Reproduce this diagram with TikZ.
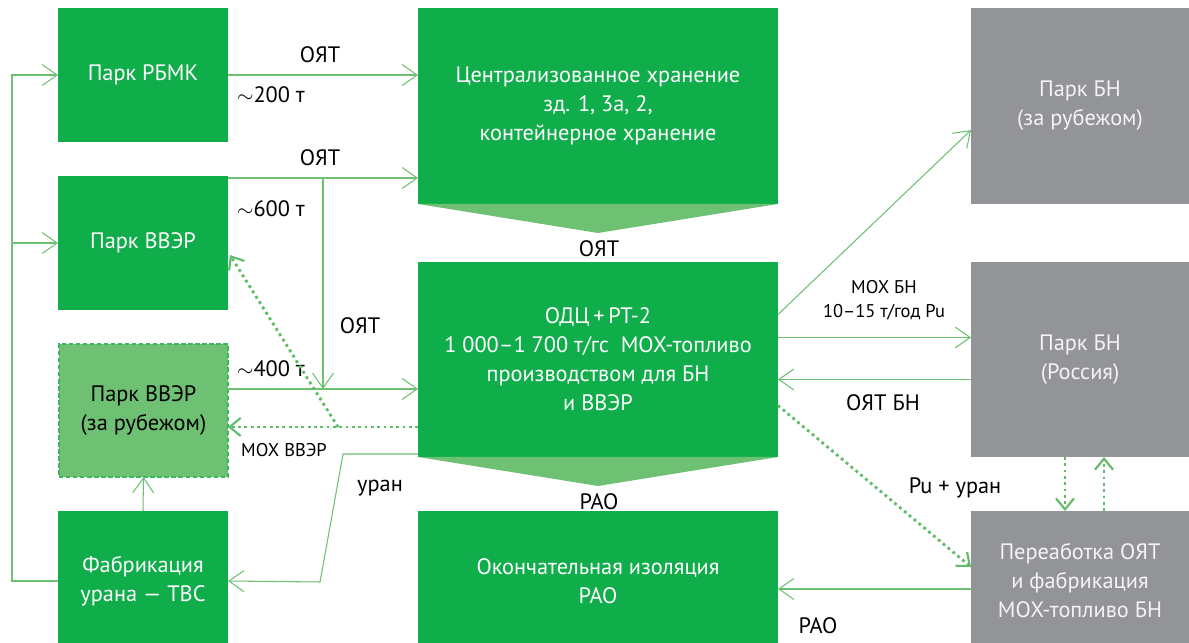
\documentclass[tikz,border=0pt]{standalone}
\usepackage{fontspec}
\setmainfont{PT Sans}
\usetikzlibrary{arrows.meta,calc}
\definecolor{Green}{RGB}{16,174,75}
\definecolor{LightGreen}{RGB}{110,192,114}
\definecolor{DotGreen}{RGB}{96,188,104}
\definecolor{Gray}{RGB}{147,148,152}
\definecolor{GrayText}{RGB}{244,244,244}
\tikzset{
  park/.style={fill=Green, text=white, align=center, inner sep=2pt, outer sep=0pt, minimum width=3.4cm, minimum height=2.68cm, font=\fontsize{12.7}{16.5}\selectfont},
  abroad/.style={park, fill=LightGreen, text=black, draw=Green!55!LightGreen, line width=1.1pt, dash pattern=on 2.5pt off 1.5pt},
  plant/.style={park, minimum width=7.2cm, minimum height=3.92cm},
  fast/.style={park, fill=Gray, text=GrayText, minimum width=4.36cm, minimum height=3.92cm},
  wedge/.style={fill=LightGreen},
  lbl/.style={inner sep=0pt, align=center, font=\fontsize{12.7}{16.5}\selectfont},
  small/.style={inner sep=0pt, align=center, font=\fontsize{10.5}{13.5}\selectfont},
  flow/.style={draw=LightGreen, line width=0.6pt, -{Straight Barb[length=0.3cm,width=0.42cm,line width=0.6pt]}},
  dotflow/.style={draw=DotGreen, line width=1.6pt, dash pattern=on 1.6pt off 2pt, -{Straight Barb[length=0.22cm,width=0.36cm,line width=1.2pt]}}
}
\begin{document}
\begin{tikzpicture}[x=0.02cm,y=-0.02cm]
\clip (0,0) rectangle (1189,642);
\fill[white] (0,0) rectangle (1189,642);

\node[park] (rbmk) at (143,75) {Парк РБМК};
\node[park] (vver) at (143,243) {Парк ВВЭР};
\node[abroad, minimum width=3.38cm, minimum height=2.66cm] (vverabroad) at (143.5,410.5) {Парк ВВЭР\\(за рубежом)};
\node[park, minimum height=2.8cm] (fab) at (143,581) {Фабрикация\\урана — ТВС};
\node[plant] (store) at (598,106) {Централизованное хранение\\зд. 1, 3а, 2,\\контейнерное хранение};
\node[plant, minimum height=3.9cm] (odc) at (598,359.5) {ОДЦ\,+\,РТ-2\\1 000–1 700 т/гс\ \ МОХ-топливо\\производством для БН\\и ВВЭР};
\node[plant, minimum height=2.8cm] (isol) at (598,581) {Окончательная изоляция\\РАО};
\node[fast] (bnabroad) at (1080,106) {Парк БН\\(за рубежом)};
\node[fast, minimum height=3.9cm] (bnrus) at (1080,359.5) {Парк БН\\(Россия)};
\node[fast, minimum height=2.8cm] (rework) at (1080,581) {Переаботка ОЯТ\\и фабрикация\\МОХ-топливо БН};

\fill[wedge] (store.south west) -- (store.south east) -- ($(store.south)+(0,29)$) -- cycle;
\fill[wedge] (odc.south west) -- (odc.south east) -- ($(odc.south)+(0,29)$) -- cycle;

\node[lbl] (oyt1) at (320,55) {ОЯТ};
\node[lbl] (t200) at (271,95) {$\sim$200 т};
\node[lbl] (oyt2) at (320,158) {ОЯТ};
\node[lbl] (t600) at (271,209) {$\sim$600 т};
\node[lbl] (oyt3) at (360,326) {ОЯТ};
\node[lbl] (t400) at (271,369) {$\sim$400 т};
\node[small] (moxvver) at (284,450) {МОХ ВВЭР};
\node[lbl] (uran) at (380,488) {уран};
\node[lbl] (oyt4) at (599,249) {ОЯТ};
\node[lbl] (rao1) at (599,502) {РАО};
\node[small] (moxbn) at (884,300) {МОХ БН\\10–15 т/год Pu};
\node[lbl] (oytbn) at (883,403) {ОЯТ БН};
\node[lbl] (puuran) at (955,488) {Pu + уран};
\node[lbl] (rao2) at (818,626) {РАО};

\coordinate (split) at (323,178);
\coordinate (join) at (323,389);
\coordinate (mox) at (338,427);

\draw[flow] (fab.west) -- ++(-46,0) coordinate (bus) |- (rbmk.west);
\draw[flow] (bus |- vver.west) -- (vver.west);
\draw[flow] (rbmk.east) -- (rbmk.east -| store.west);
\draw[flow] (vver.east |- split) -- (split -| store.west);
\draw[flow] (split) -- (join);
\draw[flow] (vverabroad.east |- join) -- (join -| odc.west);
\draw[dotflow] (odc.west |- mox) -- (vverabroad.east |- mox);
\draw[dotflow] (mox) -- ($(vver.east)+(2,12)$);
\draw[flow] ($(odc.south west)+(0,-3)$) -- ++(-75,0) -- ++(-23,128) -- (fab.east);
\draw[flow] (fab.north) -- (vverabroad.south);
\draw[flow] ($(odc.east)+(0,-45)$) -- ($(bnabroad.west)+(0,24)$);
\draw[flow] ($(odc.east)+(0,-22)$) -- ($(bnrus.west)+(0,-22)$);
\draw[flow] ($(bnrus.west)+(0,20)$) -- ($(odc.east)+(0,20)$);
\draw[dotflow] ($(odc.east)+(0,46)$) -- ($(rework.west)+(0,-14)$);
\draw[dotflow] ($(bnrus.south)+(-15,0)$) -- ($(rework.north)+(-15,0)$);
\draw[dotflow] ($(rework.north)+(24,0)$) -- ($(bnrus.south)+(24,0)$);
\draw[flow] ($(rework.west)+(0,8)$) -- ($(isol.east)+(0,8)$);
\end{tikzpicture}
\end{document}
